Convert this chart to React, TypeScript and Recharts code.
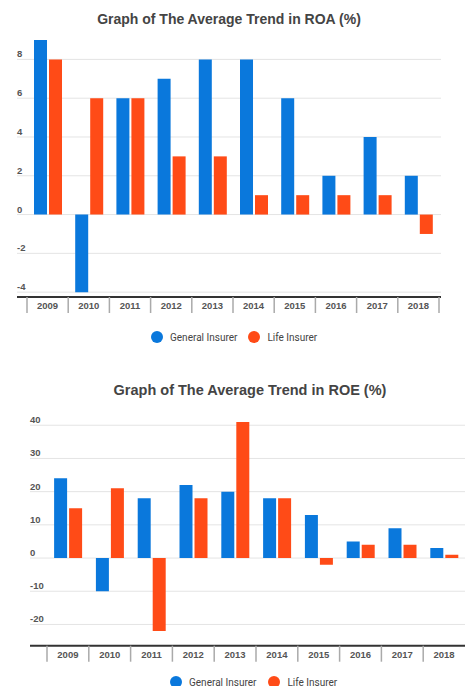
import { Bar, BarChart, CartesianGrid, XAxis, YAxis } from "recharts";

const years = ["2009", "2010", "2011", "2012", "2013", "2014", "2015", "2016", "2017", "2018"];
const roaGeneral = [9, -4, 6, 7, 8, 8, 6, 2, 4, 2];
const roaLife = [8, 6, 6, 3, 3, 1, 1, 1, 1, -1];
const roeGeneral = [24, -10, 18, 22, 20, 18, 13, 5, 9, 3];
const roeLife = [15, 21, -22, 18, 41, 18, -2, 4, 4, 1];
const roaTicks = [-4, -2, 0, 2, 4, 6, 8];
const roeTicks = [-20, -10, 0, 10, 20, 30, 40];

const seriesNames = ["General Insurer", "Life Insurer"];
const BLUE = "#0A78DC";
const ORANGE = "#FF4B17";
const FONT = "'Liberation Sans', Arial, sans-serif";

const roaData = years.map((year, i) => ({ year, general: roaGeneral[i], life: roaLife[i] }));
const roeData = years.map((year, i) => ({ year, general: roeGeneral[i], life: roeLife[i] }));

function ValueTick({ x, y, payload }: any) {
  return (
    <text x={x} y={y - 2} textAnchor="start" fontSize={9.5} fontWeight="bold" fill="#555" fontFamily={FONT}>
      {payload.value}
    </text>
  );
}

function YearTick({ x, y, payload, index, band, count, showEnd }: any) {
  return (
    <g>
      <line x1={x - band / 2} x2={x - band / 2} y1={y} y2={y + 16} stroke="#aaa" strokeWidth={1.5} />
      {showEnd && index === count - 1 && (
        <line x1={x + band / 2} x2={x + band / 2} y1={y} y2={y + 16} stroke="#aaa" strokeWidth={1.5} />
      )}
      <text x={x} y={y + 12} textAnchor="middle" fontSize={9.5} fontWeight="bold" fill="#555" fontFamily={FONT}>
        {payload.value}
      </text>
    </g>
  );
}

function LegendRow({ top, left, gap }: { top: number; left: number; gap: number }) {
  const colors = [BLUE, ORANGE];
  return (
    <div style={{ position: "absolute", top, left, display: "flex", alignItems: "center", fontFamily: "Roboto, sans-serif", fontSize: 10, color: "#444" }}>
      {seriesNames.map((name, i) => (
        <div key={name} style={{ display: "flex", alignItems: "center", marginRight: gap }}>
          <span style={{ width: 12, height: 12, borderRadius: 6, background: colors[i], marginRight: 7 }} />
          <span>{name}</span>
        </div>
      ))}
    </div>
  );
}

function Title({ text, top, left, width, size }: { text: string; top: number; left: number; width: number; size: number }) {
  return (
    <div style={{ position: "absolute", top, left, width, textAlign: "center", fontFamily: FONT, fontWeight: "bold", fontSize: size, color: "#444" }}>
      {text}
    </div>
  );
}

export default function App() {
  return (
    <div style={{ position: "absolute", left: 0, top: 0, width: 465, height: 686, overflow: "hidden", background: "#fff" }}>
      <Title text="Graph of The Average Trend in ROA (%)" top={11} left={17} width={424} size={14} />
      <div style={{ position: "absolute", left: 0, top: 0 }}>
        <BarChart width={465} height={320} data={roaData} margin={{ top: 40, right: 24, bottom: 7, left: 16 }} barCategoryGap="17%" barGap={2}>
          <CartesianGrid vertical={false} stroke="#e4e4e4" horizontalValues={roaTicks} />
          <YAxis width={1} domain={[-4.25, 9]} ticks={roaTicks} allowDataOverflow axisLine={false} tickLine={false} tickSize={0} tickMargin={0} tick={<ValueTick />} />
          <XAxis
            dataKey="year"
            height={16}
            interval={0}
            padding={{ left: 10, right: 2 }}
            axisLine={{ stroke: "#333", strokeWidth: 2 }}
            tickLine={false}
            tickSize={0}
            tickMargin={0}
            tick={<YearTick band={41.2} count={years.length} showEnd />}
          />
          <Bar dataKey="general" name={seriesNames[0]} fill={BLUE} isAnimationActive={false} />
          <Bar dataKey="life" name={seriesNames[1]} fill={ORANGE} isAnimationActive={false} />
        </BarChart>
      </div>
      <LegendRow top={331} left={151} gap={11} />

      <Title text="Graph of The Average Trend in ROE (%)" top={382} left={30} width={440} size={14.5} />
      <div style={{ position: "absolute", left: 0, top: 370 }}>
        <BarChart width={465} height={300} data={roeData} margin={{ top: 48.6, right: 0, bottom: 8.3, left: 29 }} barCategoryGap="17%" barGap={2}>
          <CartesianGrid vertical={false} stroke="#e4e4e4" horizontalValues={roeTicks} />
          <YAxis width={1} domain={[-26.4, 42]} ticks={roeTicks} allowDataOverflow axisLine={false} tickLine={false} tickSize={0} tickMargin={0} tick={<ValueTick />} />
          <XAxis
            dataKey="year"
            height={16}
            interval={0}
            padding={{ left: 17, right: 0 }}
            axisLine={{ stroke: "#333", strokeWidth: 2 }}
            tickLine={false}
            tickSize={0}
            tickMargin={0}
            tick={<YearTick band={41.8} count={years.length} showEnd={false} />}
          />
          <Bar dataKey="general" name={seriesNames[0]} fill={BLUE} isAnimationActive={false} />
          <Bar dataKey="life" name={seriesNames[1]} fill={ORANGE} isAnimationActive={false} />
        </BarChart>
      </div>
      <LegendRow top={676} left={170} gap={12} />
    </div>
  );
}
